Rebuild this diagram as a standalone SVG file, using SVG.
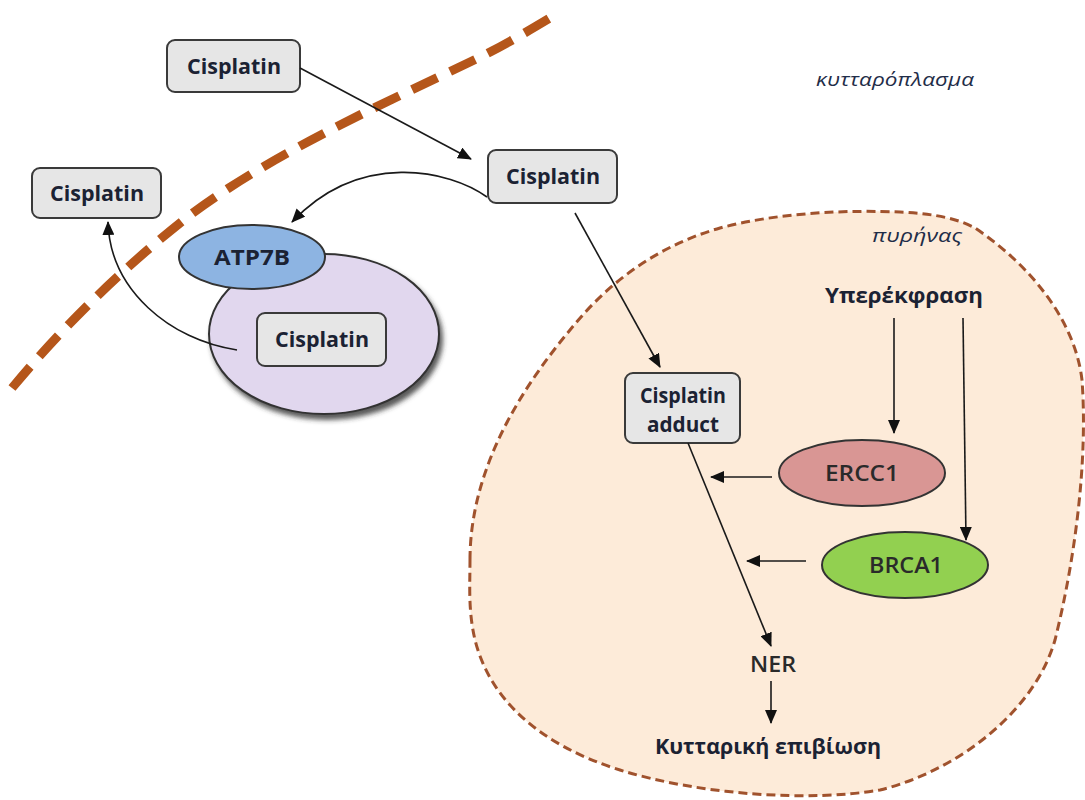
<svg xmlns="http://www.w3.org/2000/svg" width="1085" height="800" viewBox="0 0 1085 800">
<style>
.box{fill:#e6e6e6;stroke:#3a3a3a;stroke-width:2}
.t{font-family:"Open Sans","Noto Sans",sans-serif;font-size:21px;font-weight:bold;fill:#1b2233;text-anchor:middle}
.tn{font-family:"Open Sans","Noto Sans",sans-serif;font-size:21px;font-weight:600;fill:#2a2a2a;text-anchor:middle}
.it{font-family:"Open Sans","Noto Sans",sans-serif;font-size:19px;font-style:italic;fill:#1f2d48;text-anchor:middle}
.c{fill:none;stroke:#1a1a1a;stroke-width:1.6;marker-end:url(#ah)}
</style>
<defs>
<marker id="ah" markerUnits="userSpaceOnUse" markerWidth="14" markerHeight="12" refX="13" refY="6" orient="auto">
<path d="M0,0 L14,6 L0,12 Z" fill="#111"/>
</marker>
<filter id="sh" x="-20%" y="-20%" width="150%" height="150%">
<feDropShadow dx="3" dy="5" stdDeviation="2.5" flood-color="#333" flood-opacity="0.8"/>
</filter>
</defs>
<rect width="1085" height="800" fill="#fff"/>
<g id="nucleus">
<path d="M470,560 C470,470 520,390 570,330 C610,280 660,245 720,228 C780,212 850,210 900,212 C940,214 960,220 975,228 C1030,265 1075,320 1082,380 C1088,460 1075,560 1055,640 C1035,710 960,770 880,790 C810,802 700,795 620,770 C540,745 490,700 475,640 C468,610 470,585 470,560 Z" fill="#fdebd9" stroke="#a0522d" stroke-width="3" stroke-dasharray="9 5"/>
<text class="it" x="917" y="242" textLength="90" lengthAdjust="spacingAndGlyphs">πυρήνας</text>
</g>
<g id="membrane">
<path d="M12,388 C60,330 120,270 190,215 C270,155 380,105 470,62 C500,48 530,30 555,15" fill="none" stroke="#b5561a" stroke-width="9" stroke-dasharray="28 14"/>
</g>
<text class="it" x="895" y="86" textLength="158" lengthAdjust="spacingAndGlyphs">κυτταρόπλασμα</text>
<g id="vesicle">
<ellipse cx="324" cy="334" rx="115" ry="80" fill="#e1d7ee" stroke="#333" stroke-width="2" filter="url(#sh)"/>
</g>
<g id="atp7b">
<ellipse cx="252" cy="257" rx="73" ry="32" fill="#8db4e2" stroke="#333" stroke-width="2"/>
<text class="t" x="252" y="265" textLength="76" lengthAdjust="spacingAndGlyphs">ATP7B</text>
</g>
<g id="cis-top">
<rect class="box" x="167" y="40" width="133" height="52" rx="8"/>
<text class="t" x="234" y="74" textLength="94" lengthAdjust="spacingAndGlyphs">Cisplatin</text>
</g>
<g id="cis-right">
<rect class="box" x="488" y="150" width="129" height="53" rx="8"/>
<text class="t" x="553" y="184" textLength="94" lengthAdjust="spacingAndGlyphs">Cisplatin</text>
</g>
<g id="cis-left">
<rect class="box" x="32" y="168" width="129" height="50" rx="8"/>
<text class="t" x="97" y="201" textLength="94" lengthAdjust="spacingAndGlyphs">Cisplatin</text>
</g>
<g id="cis-inner">
<rect class="box" x="257" y="313" width="129" height="53" rx="8"/>
<text class="t" x="322" y="347" textLength="94" lengthAdjust="spacingAndGlyphs">Cisplatin</text>
</g>
<g id="adduct">
<rect class="box" x="625" y="373" width="115" height="70" rx="8"/>
<text class="t" x="683" y="403" textLength="86" lengthAdjust="spacingAndGlyphs">Cisplatin</text>
<text class="t" x="683" y="432" textLength="72" lengthAdjust="spacingAndGlyphs">adduct</text>
</g>
<g id="overexp">
<text class="t" x="904" y="303" textLength="158" lengthAdjust="spacingAndGlyphs">Υπερέκφραση</text>
</g>
<g id="ercc1">
<ellipse cx="862" cy="473" rx="83" ry="33" fill="#d99694" stroke="#333" stroke-width="2"/>
<text class="tn" x="862" y="481" textLength="74" lengthAdjust="spacingAndGlyphs">ERCC1</text>
</g>
<g id="brca1">
<ellipse cx="905" cy="565" rx="83" ry="33" fill="#92d050" stroke="#333" stroke-width="2"/>
<text class="tn" x="906" y="573" textLength="74" lengthAdjust="spacingAndGlyphs">BRCA1</text>
</g>
<g id="ner">
<text class="tn" x="773" y="672" textLength="46" lengthAdjust="spacingAndGlyphs">NER</text>
</g>
<g id="survival">
<text class="t" x="768" y="754" textLength="226" lengthAdjust="spacingAndGlyphs">Κυτταρική επιβίωση</text>
</g>
<g id="connectors">
<path class="c" d="M300,68 L471,159"/>
<path class="c" d="M487,197 C450,170 360,150 292,222"/>
<path class="c" d="M237,350 C170,340 110,290 108,222"/>
<path class="c" d="M575,213 L660,367"/>
<path class="c" d="M688,443 L771,646"/>
<path class="c" d="M771,681 L771,723"/>
<path class="c" d="M894,318 L894,433"/>
<path class="c" d="M963,318 L966,540"/>
<path class="c" d="M772,477 L711,477"/>
<path class="c" d="M806,561 L747,561"/>
</g>
</svg>
